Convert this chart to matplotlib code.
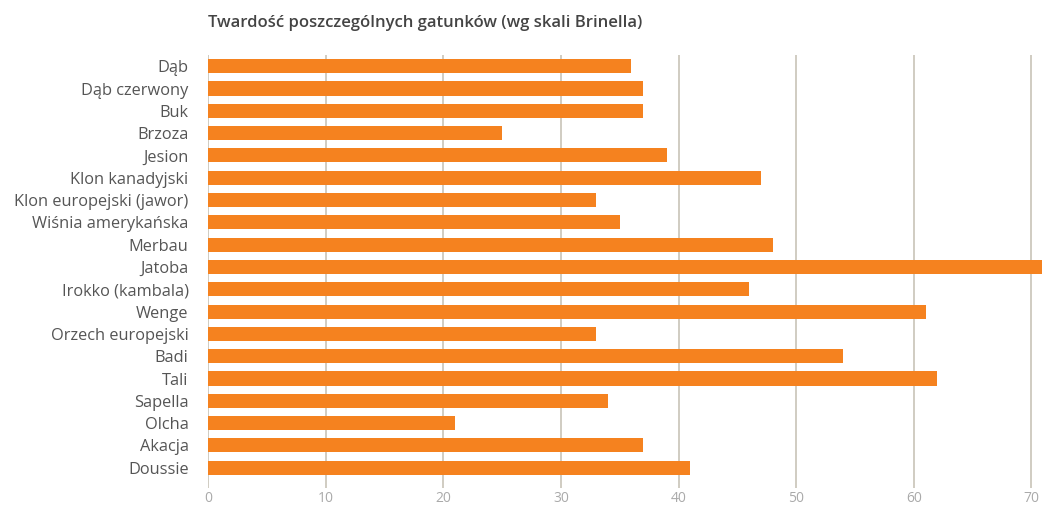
import matplotlib.pyplot as plt

species = ['Dąb', 'Dąb czerwony', 'Buk', 'Brzoza', 'Jesion', 'Klon kanadyjski',
           'Klon europejski (jawor)', 'Wiśnia amerykańska', 'Merbau', 'Jatoba',
           'Irokko (kambala)', 'Wenge', 'Orzech europejski', 'Badi', 'Tali',
           'Sapella', 'Olcha', 'Akacja', 'Doussie']
hardness = [36, 37, 37, 25, 39, 47, 33, 35, 48, 72, 46, 61, 33, 54, 62, 34, 21, 37, 41]
ticks = [0, 10, 20, 30, 40, 50, 60, 70]

plt.rcParams['font.family'] = ['Open Sans', 'DejaVu Sans']

fig = plt.figure(figsize=(10.42, 5.05), dpi=100)
ax = fig.add_axes([0.1996, 0.034, 0.8004, 0.857])

pos = list(range(len(species)))
ax.barh(pos, hardness, height=0.63, color='#f5821f', zorder=2)

ax.set_xlim(0, 70.9)
ax.set_ylim(18.9, -0.5)
ax.set_xticks(ticks)
ax.set_yticks(pos)
ax.set_yticklabels(species, fontsize=11.8, color='#555555')
ax.set_xticklabels([str(t) for t in ticks], fontsize=10, color='#aaaaaa')
ax.tick_params(length=0)
ax.tick_params(axis='y', pad=14)
ax.tick_params(axis='x', pad=2)
ax.grid(axis='x', color='#c8c4b8', linewidth=1.2, zorder=0)
for s in ax.spines.values():
    s.set_visible(False)

fig.text(0.1996, 0.947, 'Twardość poszczególnych gatunków (wg skali Brinella)',
         fontsize=12, fontweight='semibold', color='#444444', va='baseline')

fig.savefig('out.png', dpi=100)
